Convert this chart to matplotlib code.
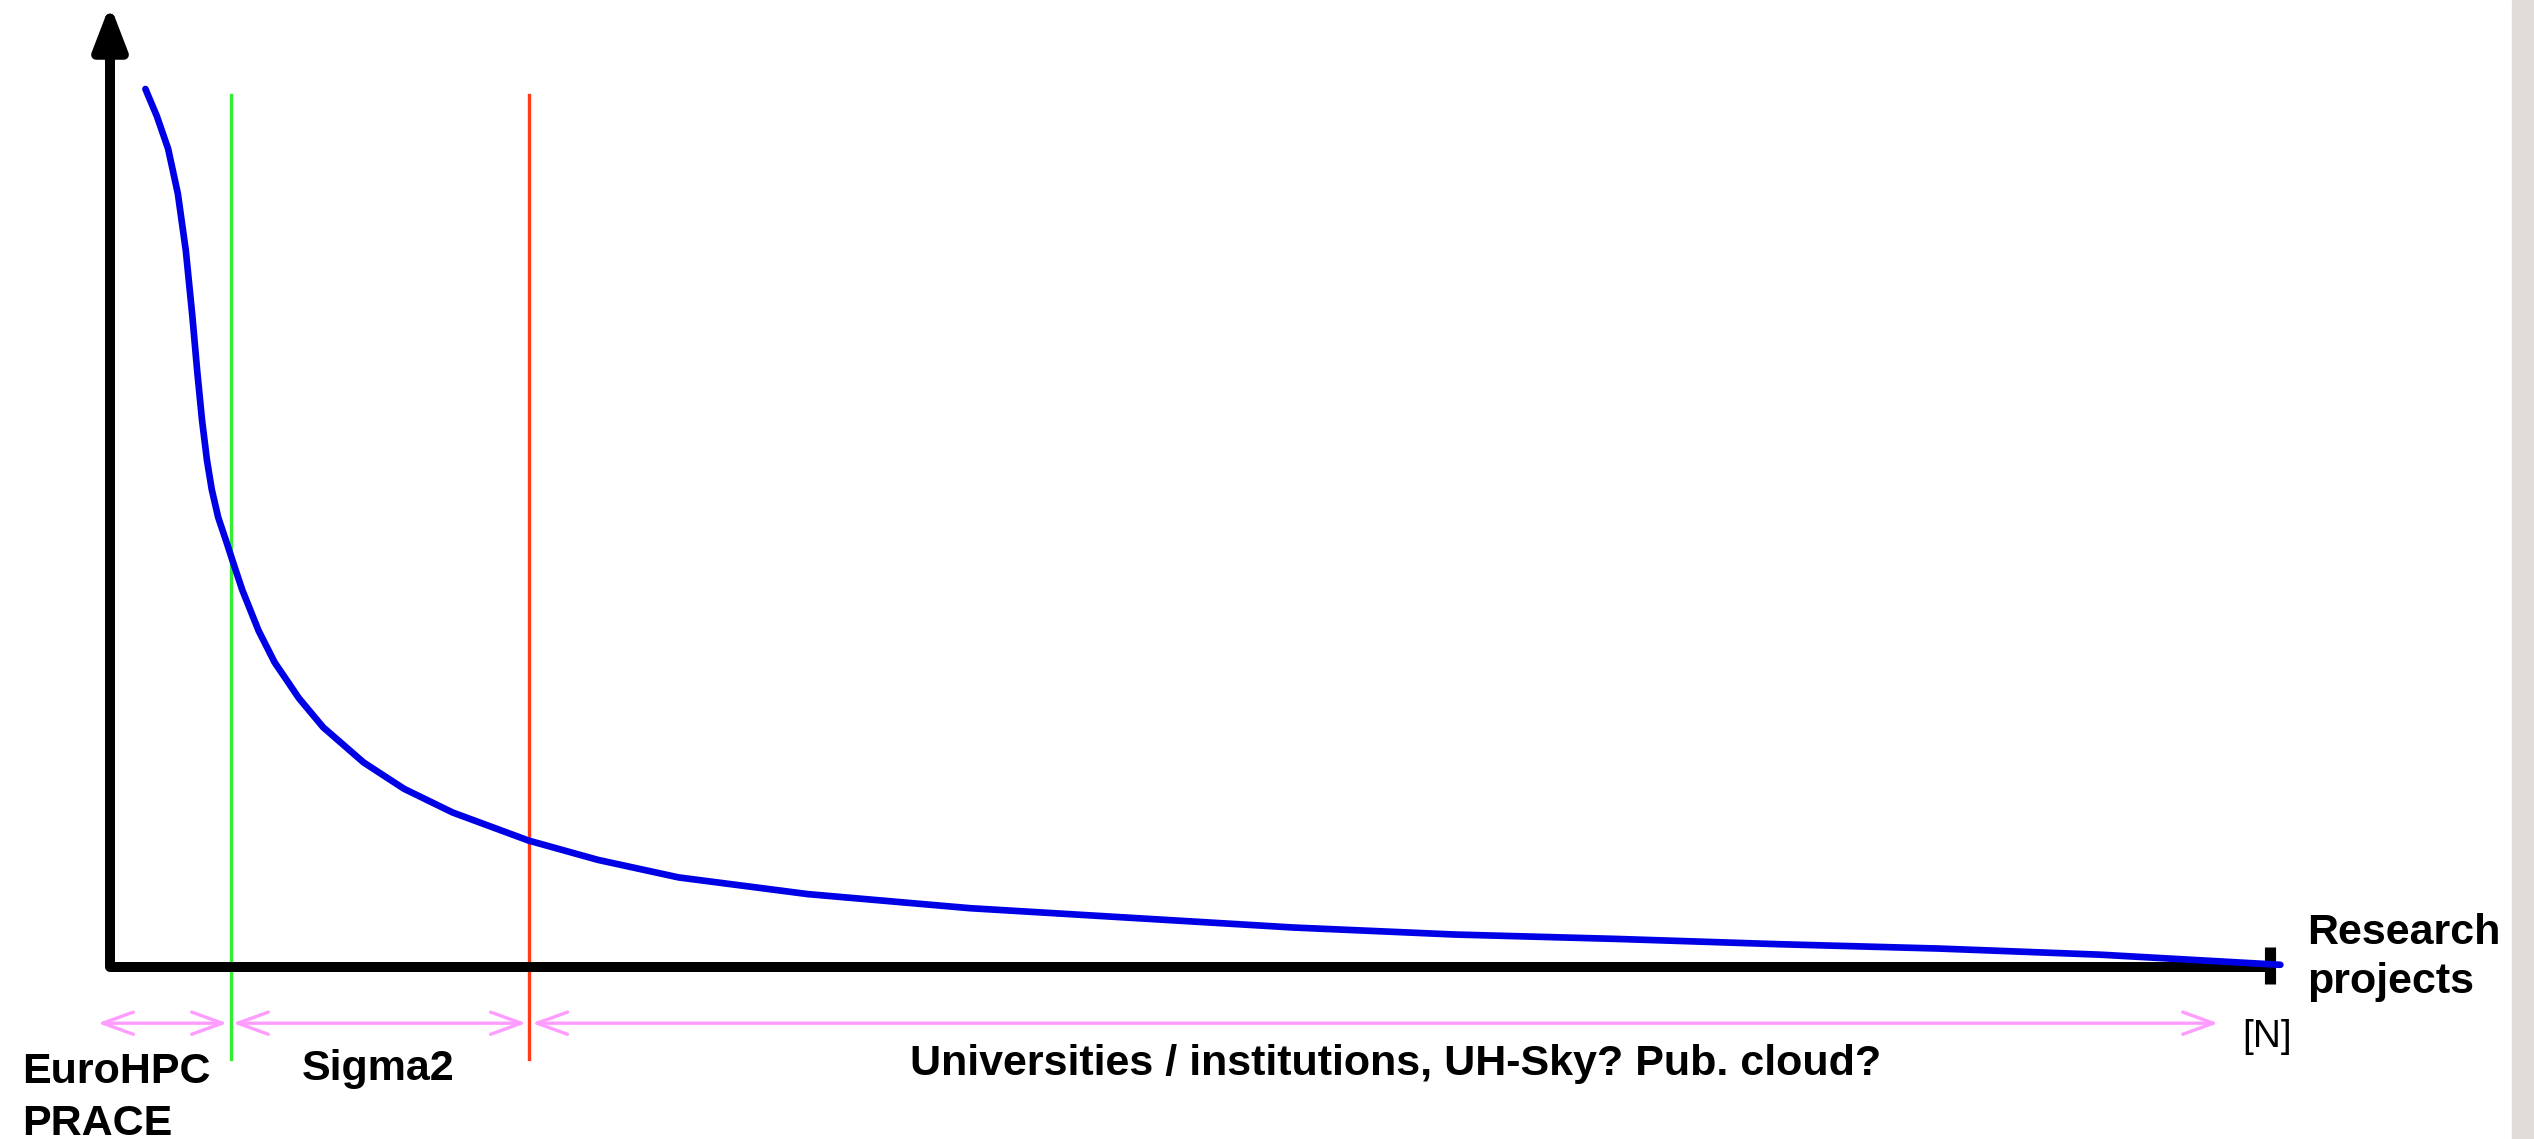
import matplotlib.pyplot as plt
from matplotlib.patches import FancyArrowPatch, Rectangle

plt.rcParams['font.family'] = ['Liberation Sans', 'DejaVu Sans']

# curve: research projects (sorted) vs resource need
proj = [1.64, 2.17, 2.69, 3.14, 3.51, 3.81, 4.04, 4.26, 4.49, 4.71, 5.01, 5.38, 5.75,
        6.13, 6.88, 7.62, 8.75, 9.87, 11.74, 13.61, 15.86, 19.38, 22.59, 26.33, 32.31,
        39.80, 47.28, 54.76, 62.24, 69.73, 77.21, 84.69, 92.17, 100.48]
usage = [100.0, 96.9, 93.2, 88.1, 81.6, 74.2, 67.8, 62.3, 57.7, 54.4, 51.2, 48.5, 45.7,
         42.9, 38.3, 34.7, 30.6, 27.3, 23.3, 20.3, 17.6, 14.4, 12.2, 10.2, 8.3,
         6.7, 5.6, 4.5, 3.7, 3.2, 2.6, 2.1, 1.4, 0.25]

# borders between the tiers
borders = [5.6, 19.4]
border_colors = ['#33ee33', '#ff3b1a']

# pink span arrows under the axis (start, end)
spans = [(-0.56, 5.42), (5.69, 19.26), (19.54, 97.6)]
span_labels = ['EuroHPC\nPRACE', 'Sigma2', 'Universities / institutions, UH-Sky? Pub. cloud?']
label_x = [-4.07, 8.89, 37.04]
label_y = [-19.13, -12.87, -12.3]   # baseline of the last line

fig = plt.figure(figsize=(25.34, 11.39), dpi=100)
fig.patches.append(Rectangle((2512 / 2534, 0), 22 / 2534, 1, transform=fig.transFigure,
                             color='#e0dcd9', zorder=0))
ax = fig.add_axes([110 / 2534, 172 / 1139, 2160 / 2534, 878 / 1139])
ax.set_xlim(0, 100)
ax.set_ylim(0, 100)
ax.axis('off')

# axes drawn by hand
ax.plot([0, 0, 100], [104, 0, 0], color='black', lw=7.2, solid_joinstyle='round',
        solid_capstyle='butt', clip_on=False, zorder=2)
ax.add_patch(FancyArrowPatch((0, 100), (0, 109.6), arrowstyle='-|>,head_length=26,head_width=10',
                             mutation_scale=1, lw=7.2, color='black', shrinkA=0, shrinkB=0,
                             joinstyle='round', clip_on=False, zorder=2))
ax.plot([100, 100], [2.28, -1.94], color='black', lw=8, solid_capstyle='butt',
        clip_on=False, zorder=2)

for b, c in zip(borders, border_colors):
    ax.plot([b, b], [99.3, -10.5], color=c, lw=2.4, clip_on=False, zorder=1)

ax.plot(proj, usage, color='#0000e6', lw=4.8, solid_capstyle='round',
        solid_joinstyle='round', clip_on=False, zorder=3)

for (a, b) in spans:
    ax.add_patch(FancyArrowPatch((a, -6.4), (b, -6.4), arrowstyle='<->,head_length=22,head_width=8',
                                 mutation_scale=1, lw=2.4, color='#ff9cff', shrinkA=0, shrinkB=0,
                                 clip_on=False, zorder=1))

for t, x, y in zip(span_labels, label_x, label_y):
    ax.text(x, y, t, fontsize=31, fontweight='bold', va='baseline', ha='left',
            linespacing=1.38, clip_on=False)

ax.text(101.7, -2.96, 'Research\nprojects', fontsize=31, fontweight='bold', va='baseline',
        ha='left', linespacing=1.28, clip_on=False)
ax.text(98.7, -9.1, '[N]', fontsize=28, va='baseline', ha='left', clip_on=False)

plt.savefig('out.png', dpi=100)
